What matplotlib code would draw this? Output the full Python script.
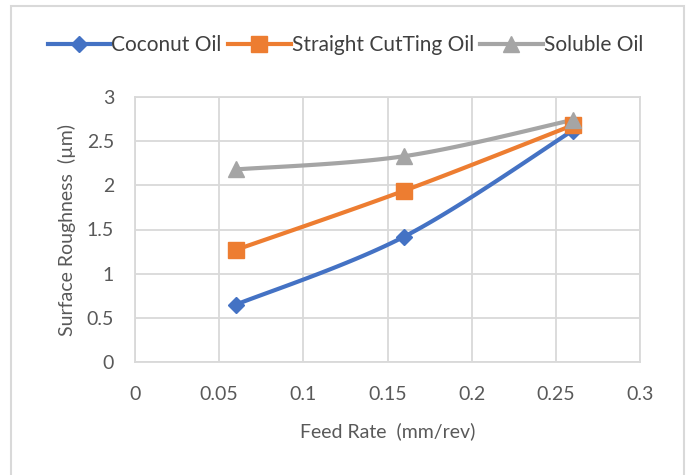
import numpy as np
import matplotlib.pyplot as plt
from matplotlib.patches import Rectangle

plt.rcParams['font.family'] = ['Lato', 'DejaVu Sans']

feed_rate = [0.06, 0.16, 0.26]
coconut = [0.65, 1.42, 2.62]
straight = [1.27, 1.94, 2.68]
soluble = [2.18, 2.33, 2.74]

x_ticks = [0, 0.05, 0.1, 0.15, 0.2, 0.25, 0.3]
y_ticks = [0, 0.5, 1, 1.5, 2, 2.5, 3]


def smooth(x, y, n=40):
    # cubic bezier through the points, spreadsheet-style smoothing
    x = np.asarray(x, float)
    y = np.asarray(y, float)
    px = np.concatenate([[x[0]], x, [x[-1]]])
    py = np.concatenate([[y[0]], y, [y[-1]]])
    xs, ys = [], []
    t = np.linspace(0, 1, n)
    for i in range(len(x) - 1):
        p0 = np.array([x[i], y[i]])
        p3 = np.array([x[i + 1], y[i + 1]])
        p1 = p0 + (np.array([px[i + 2], py[i + 2]]) - np.array([px[i], py[i]])) / 6
        p2 = p3 - (np.array([px[i + 3], py[i + 3]]) - np.array([px[i + 1], py[i + 1]])) / 6
        b = ((1 - t) ** 3)[:, None] * p0 + (3 * (1 - t) ** 2 * t)[:, None] * p1 \
            + (3 * (1 - t) * t ** 2)[:, None] * p2 + (t ** 3)[:, None] * p3
        xs.extend(b[:, 0])
        ys.extend(b[:, 1])
    return xs, ys


fig = plt.figure(figsize=(6.91, 4.75), dpi=100)
fig.patches.append(Rectangle((11 / 691, -0.05), 673 / 691, 1 - 6 / 475 + 0.05,
                             transform=fig.transFigure, fill=False,
                             edgecolor='#d9d9d9', linewidth=1.5))
ax = fig.add_axes([135 / 691, 1 - 362 / 475, 505 / 691, 265 / 475])

series = [
    (coconut, 'Coconut Oil', '#4472c4', 'D', 8),
    (straight, 'Straight CutTing Oil', '#ed7d31', 's', 11),
    (soluble, 'Soluble Oil', '#a5a5a5', '^', 11),
]
for vals, name, color, marker, ms in series:
    sx, sy = smooth(feed_rate, vals)
    ax.plot(sx, sy, color=color, linewidth=3, solid_capstyle='round', zorder=3)
    ax.plot(feed_rate, vals, linestyle='none', marker=marker, markersize=ms,
            color=color, zorder=4)
    ax.plot([], [], color=color, linewidth=3, marker=marker, markersize=ms,
            label=name)

ax.set_xlim(0, 0.3)
ax.set_ylim(0, 3)
ax.set_xticks(x_ticks)
ax.set_yticks(y_ticks)
ax.set_xticklabels([f'{v:g}' for v in x_ticks], fontsize=14)
ax.set_yticklabels([f'{v:g}' for v in y_ticks], fontsize=14)
ax.tick_params(axis='x', length=0, colors='#595959', pad=17)
ax.tick_params(axis='y', length=0, colors='#595959', pad=15)
ax.grid(True, color='#d9d9d9', linewidth=1.3)
ax.set_axisbelow(True)
for s in ax.spines.values():
    s.set_color('#d9d9d9')
    s.set_linewidth(1.3)

ax.set_xlabel('Feed Rate  (mm/rev)', fontsize=14, color='#595959', labelpad=14)
ax.set_ylabel('Surface Roughness  (µm)', fontsize=14, color='#595959', labelpad=8)

fig.legend(loc='upper center', bbox_to_anchor=(0.5, 0.965), ncol=3, frameon=False,
           fontsize=15, handlelength=3.0, handletextpad=0.05, columnspacing=0.3,
           labelcolor='#404040')

fig.savefig('out.png', dpi=100)
